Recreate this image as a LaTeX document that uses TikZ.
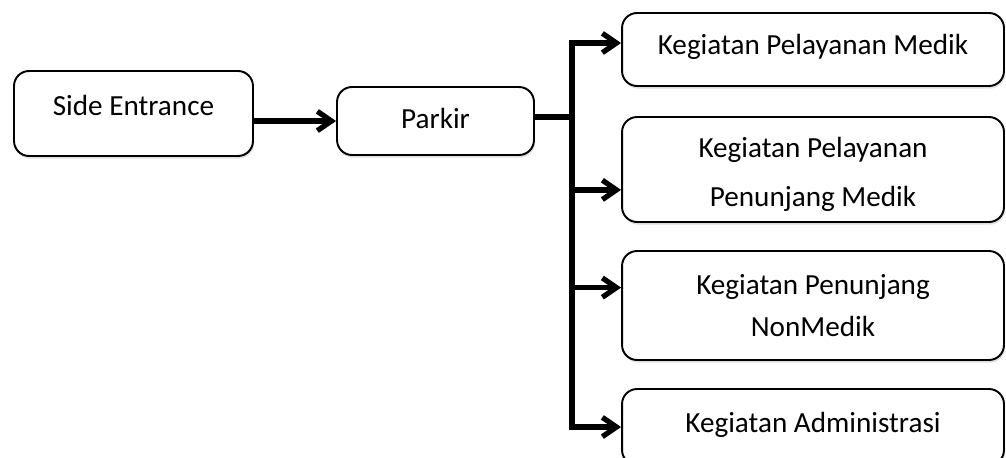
\documentclass[tikz,border=0pt]{standalone}
\usepackage{fontspec}
\setmainfont{Carlito}
\usetikzlibrary{arrows.meta, shadows}

\begin{document}
\begin{tikzpicture}[x=0.02cm, y=-0.02cm, >={Straight Barb[length=8pt, width=11pt]}, line join=miter]
    \tikzstyle{box}=[draw=black, line width=1.1pt, fill=white, rounded corners=0.3cm, align=center,
        font=\fontsize{16.6}{27.5}\selectfont, minimum width=7.64cm,
        drop shadow={opacity=0.25, shadow xshift=0.6pt, shadow yshift=-1.5pt}]
    \tikzstyle{link}=[->, line width=3pt]
    \clip (0,0) rectangle (1006,457);

    \node[box, minimum width=4.78cm, minimum height=1.7cm, text height=12pt, text depth=10pt] (side) at (133.5,113.5) {Side Entrance};
    \node[box, minimum width=3.94cm, minimum height=1.36cm, text height=11pt, text depth=3pt] (parkir) at (435.5,121) {Parkir};
    \node[box, minimum height=1.46cm, text height=11pt, text depth=5pt] (medik) at (813,49.5) {Kegiatan Pelayanan Medik};
    \node[box, minimum height=2.1cm] (penunjang) at (813,169.5) {\rule{0pt}{17pt}Kegiatan Pelayanan\\Penunjang Medik};
    \node[box, minimum height=2.18cm, font=\fontsize{16.6}{24}\selectfont] (nonmedik) at (813,305.5) {Kegiatan Penunjang\\NonMedik};
    \node[box, minimum height=1.52cm, text height=11pt, text depth=5pt] (admin) at (813,427) {Kegiatan Administrasi};

    \coordinate (trunk) at (572,117);

    \draw[link] (side.east |- parkir.west) -- (parkir.west);
    \draw[line width=3pt] (parkir.east |- trunk) -- (trunk);
    \draw[link] (trunk) |- ([yshift=3.7pt]medik.west);
    \draw[link] (trunk) |- ([yshift=-11.6pt]penunjang.west);
    \draw[link] (trunk) |- ([yshift=10.2pt]nonmedik.west);
    \draw[link] (trunk) |- (admin.west);
\end{tikzpicture}
\end{document}
